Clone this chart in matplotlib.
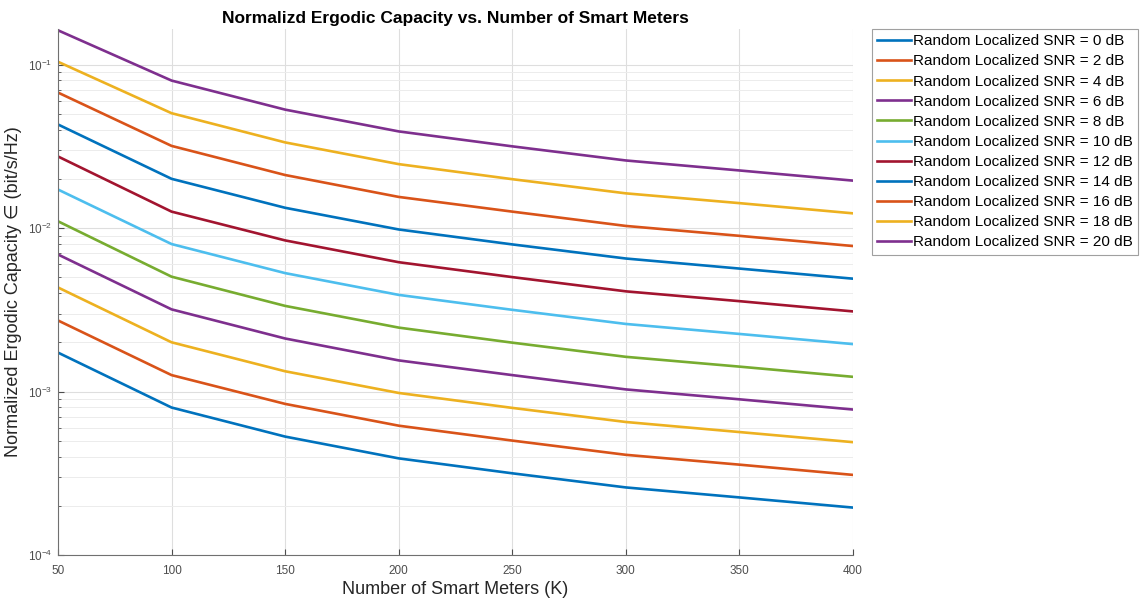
import numpy as np
import matplotlib
matplotlib.use('Agg')
import matplotlib.pyplot as plt
from matplotlib.ticker import LogLocator, NullFormatter

plt.rcParams['font.family'] = ['Liberation Sans', 'DejaVu Sans']
plt.rcParams['mathtext.fontset'] = 'custom'
plt.rcParams['mathtext.rm'] = 'Liberation Sans'
plt.rcParams['axes.unicode_minus'] = False

# number of smart meters
K = [50, 100, 150, 200, 250, 300, 350, 400]

snr_db = [0, 2, 4, 6, 8, 10, 12, 14, 16, 18, 20]

# normalized ergodic capacity, one list per SNR
cap_0 = [1.73e-3, 7.98e-4, 5.30e-4, 3.90e-4, 3.16e-4, 2.59e-4, 2.25e-4, 1.95e-4]
cap_2 = [2.72e-3, 1.26e-3, 8.40e-4, 6.18e-4, 5.01e-4, 4.10e-4, 3.57e-4, 3.09e-4]
cap_4 = [4.33e-3, 2.00e-3, 1.33e-3, 9.80e-4, 7.94e-4, 6.51e-4, 5.65e-4, 4.90e-4]
cap_6 = [6.89e-3, 3.18e-3, 2.11e-3, 1.55e-3, 1.26e-3, 1.03e-3, 8.96e-4, 7.76e-4]
cap_8 = [1.10e-2, 5.04e-3, 3.34e-3, 2.46e-3, 1.99e-3, 1.63e-3, 1.42e-3, 1.23e-3]
cap_10 = [1.72e-2, 7.98e-3, 5.30e-3, 3.90e-3, 3.16e-3, 2.59e-3, 2.25e-3, 1.95e-3]
cap_12 = [2.74e-2, 1.26e-2, 8.40e-3, 6.18e-3, 5.01e-3, 4.10e-3, 3.57e-3, 3.09e-3]
cap_14 = [4.30e-2, 2.00e-2, 1.33e-2, 9.80e-3, 7.94e-3, 6.51e-3, 5.65e-3, 4.90e-3]
cap_16 = [6.74e-2, 3.18e-2, 2.11e-2, 1.55e-2, 1.26e-2, 1.03e-2, 8.96e-3, 7.76e-3]
cap_18 = [0.104, 5.04e-2, 3.34e-2, 2.46e-2, 1.99e-2, 1.63e-2, 1.42e-2, 1.23e-2]
cap_20 = [0.162, 7.98e-2, 5.30e-2, 3.90e-2, 3.16e-2, 2.59e-2, 2.25e-2, 1.95e-2]

caps = [cap_0, cap_2, cap_4, cap_6, cap_8, cap_10,
	cap_12, cap_14, cap_16, cap_18, cap_20]

# matlab default line colors
colors = ['#0072BD', '#D95319', '#EDB120', '#7E2F8E', '#77AC30', '#4DBEEE', '#A2142F']

fig = plt.figure(figsize=(11.47, 6.01), dpi=100)
ax = fig.add_axes([58/1147., 46/601., (853-58)/1147., (555-29)/601.])

for i, (s, c) in enumerate(zip(snr_db, caps)):
	ax.plot(K, c, color=colors[i % len(colors)], lw=1.9,
		label='Random Localized SNR = %d dB' % s)

ax.set_yscale('log')
ax.set_xlim(50, 400)
ax.set_ylim(1e-4, 0.165)
ax.set_xticks(range(50, 401, 50))
ax.yaxis.set_major_locator(LogLocator(base=10, numticks=10))
ax.yaxis.set_minor_locator(LogLocator(base=10, subs=np.arange(2, 10), numticks=20))
ax.yaxis.set_minor_formatter(NullFormatter())

ax.grid(True, which='major', color='#dedede', lw=0.8)
ax.grid(True, which='minor', axis='y', color='#ececec', lw=0.7)
ax.set_axisbelow(True)

for sp in ['top', 'right']:
	ax.spines[sp].set_visible(False)
for sp in ['left', 'bottom']:
	ax.spines[sp].set_color('#707070')
	ax.spines[sp].set_linewidth(0.8)

ax.tick_params(which='both', direction='in', colors='#4d4d4d', labelsize=8.5)
ax.tick_params(which='major', length=4)
ax.tick_params(which='minor', length=2)
ax.tick_params(axis='x', pad=7)
ax.tick_params(axis='y', pad=4)

ax.set_xlabel('Number of Smart Meters (K)', fontsize=13, color='#262626', labelpad=3)
ax.set_ylabel('Normalized Ergodic Capacity \u2208 (bit/s/Hz)', fontsize=13, color='#262626', labelpad=4)
ax.set_title('Normalizd Ergodic Capacity vs. Number of Smart Meters',
	fontsize=12.5, fontweight='bold', pad=4)

leg = ax.legend(loc='upper left', bbox_to_anchor=(1.024, 1.0), fontsize=11,
	frameon=True, fancybox=False, handlelength=2.2, handletextpad=0.15,
	labelspacing=0.4, borderpad=0.35, borderaxespad=0.0)
leg.get_frame().set_edgecolor('#888888')
leg.get_frame().set_linewidth(0.8)

fig.savefig('out.png', dpi=100)
